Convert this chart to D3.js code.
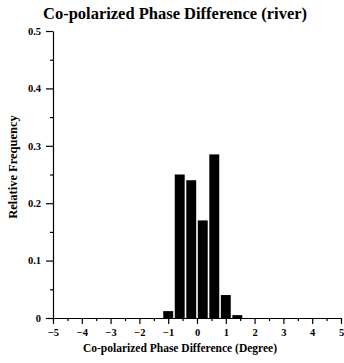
<!DOCTYPE html>
<html>
<head>
<meta charset="utf-8">
<script src="https://cdn.jsdelivr.net/npm/d3@7"></script>
<style>
  body { margin: 0; background: #fff; }
  svg { display: block; }
  text { font-family: "Liberation Serif", "DejaVu Serif", serif !important; font-weight: bold; fill: #000; }
  .axis path, .axis line { stroke: #000; stroke-width: 1.2px; }
</style>
</head>
<body>
<script>
    // данные гистограммы
    const binCenters = [-1.0, -0.6, -0.2, 0.2, 0.6, 1.0, 1.4];
    const frequencies = [0.012, 0.25, 0.24, 0.17, 0.285, 0.04, 0.005];
    const binWidth = 0.4;
    const xTicks = [-5, -4, -3, -2, -1, 0, 1, 2, 3, 4, 5];
    const yTicks = [0, 0.1, 0.2, 0.3, 0.4, 0.5];

    const W = 344, H = 363;
    const x = d3.scaleLinear().domain([-5, 5]).range([53, 341]);
    const y = d3.scaleLinear().domain([0, 0.5]).range([318, 31]);

    const svg = d3.select('body').append('svg')
        .attr('width', W)
        .attr('height', H);

    // столбцы
    svg.append('g').selectAll('rect')
        .data(binCenters)
        .join('rect')
        .attr('x', (d) => x(d - binWidth / 2) + 0.8)
        .attr('width', (d) => x(d + binWidth / 2) - x(d - binWidth / 2) - 1.6)
        .attr('y', (d, i) => y(frequencies[i]))
        .attr('height', (d, i) => y(0) - y(frequencies[i]))
        .attr('fill', '#000');

    // ось X: основные и промежуточные деления
    const xMinor = d3.range(-4.5, 5, 1);
    svg.append('g')
        .attr('class', 'axis')
        .attr('transform', `translate(0,${y(0)})`)
        .call(d3.axisBottom(x).tickValues(xMinor).tickSize(3).tickFormat(''))
        .call((g) => g.select('.domain').remove());
    svg.append('g')
        .attr('class', 'axis')
        .attr('transform', `translate(0,${y(0)})`)
        .call(d3.axisBottom(x).tickValues(xTicks).tickSize(6).tickSizeOuter(0)
            .tickPadding(5).tickFormat(d3.format('d')))
        .call((g) => g.selectAll('text').style('font-size', '10.5px'));

    // ось Y
    const yMinor = d3.range(0.05, 0.5, 0.1);
    svg.append('g')
        .attr('class', 'axis')
        .attr('transform', `translate(${x(-5)},0)`)
        .call(d3.axisLeft(y).tickValues(yMinor).tickSize(3).tickFormat(''))
        .call((g) => g.select('.domain').remove());
    svg.append('g')
        .attr('class', 'axis')
        .attr('transform', `translate(${x(-5)},0)`)
        .call(d3.axisLeft(y).tickValues(yTicks).tickSize(7).tickSizeOuter(0)
            .tickPadding(5).tickFormat((d) => d === 0 ? '0' : d3.format('.1f')(d)))
        .call((g) => g.selectAll('text').style('font-size', '10.5px'));

    // подписи
    svg.append('text')
        .attr('x', 175)
        .attr('y', 19)
        .attr('text-anchor', 'middle')
        .style('font-size', '16.5px')
        .text('Co-polarized Phase Difference (river)');

    svg.append('text')
        .attr('x', 180)
        .attr('y', 352)
        .attr('text-anchor', 'middle')
        .style('font-size', '11.5px')
        .text('Co-polarized Phase Difference (Degree)');

    svg.append('text')
        .attr('transform', 'translate(17,167) rotate(-90)')
        .attr('text-anchor', 'middle')
        .style('font-size', '12.5px')
        .text('Relative Frequency');
</script>
</body>
</html>
